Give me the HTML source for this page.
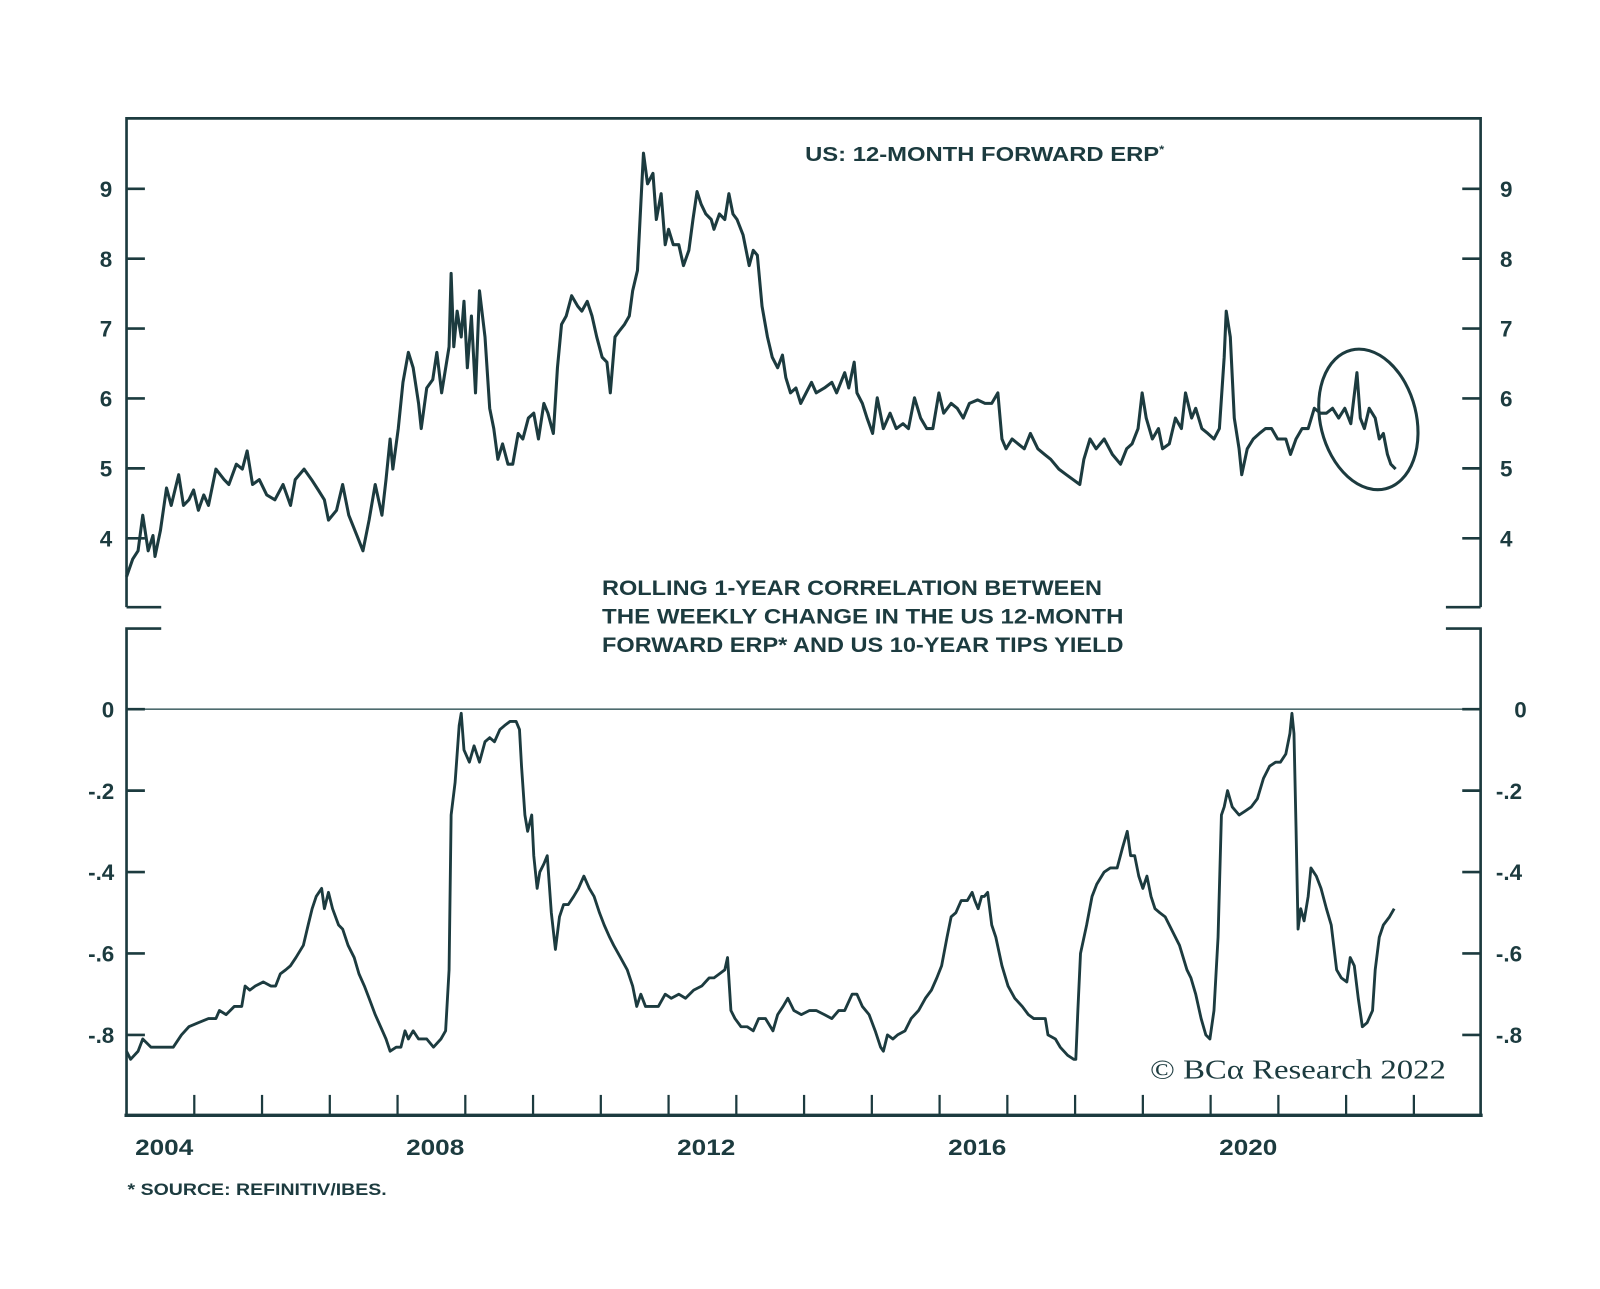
<!DOCTYPE html>
<html><head><meta charset="utf-8"><title>US 12-Month Forward ERP</title>
<style>
html,body{margin:0;padding:0;background:#fff;}
svg{display:block;}
text{font-family:"Liberation Sans",Arial,sans-serif;fill:#1c3b3f;font-weight:bold;}
</style></head>
<body>
<svg id="chart" width="1600" height="1289" viewBox="0 0 1568 1263.2" xmlns="http://www.w3.org/2000/svg">
  <rect x="0" y="0" width="1568" height="1264" fill="#fff"/>
  <g id="frame" stroke="#1c3b3f" fill="none" stroke-width="2.6">
    <path d="M124,595 V116 H1451 V595"/>
    <path d="M124,595 H158 M1451,595 H1417"/>
    <path d="M158,616 H124 V1093 M1417,616 H1451 V1093"/>
    <path d="M122,1093 H1453" stroke-width="3.4"/>
  </g>
  <line x1="124" x2="1451" y1="695" y2="695" stroke="#4d6b6e" stroke-width="1.6"/>
  <g id="axes"></g>
  <g id="series"></g>
  <ellipse cx="1341" cy="411" rx="47" ry="70" transform="rotate(-14 1341 411)" fill="none" stroke="#1c3b3f" stroke-width="3"/>
  <text x="789" y="158" font-size="20" textLength="352" lengthAdjust="spacingAndGlyphs">US: 12-MONTH FORWARD ERP<tspan font-size="11" dy="-8">*</tspan></text>
  <g font-size="21">
    <text x="590" y="583" textLength="490" lengthAdjust="spacingAndGlyphs">ROLLING 1-YEAR CORRELATION BETWEEN</text>
    <text x="590" y="611" textLength="511" lengthAdjust="spacingAndGlyphs">THE WEEKLY CHANGE IN THE US 12-MONTH</text>
    <text x="590" y="639" textLength="511" lengthAdjust="spacingAndGlyphs">FORWARD ERP* AND US 10-YEAR TIPS YIELD</text>
  </g>
  <text x="1127" y="1057" font-size="27" style="font-family:'Liberation Serif',serif;font-weight:normal" textLength="290" lengthAdjust="spacingAndGlyphs">© BCα Research 2022</text>
  <text x="125" y="1171" font-size="16" textLength="254" lengthAdjust="spacingAndGlyphs">* SOURCE: REFINITIV/IBES.</text>
</svg>
<script>
const erpDates = [2003.00,2003.09,2003.17,2003.24,2003.32,2003.39,2003.42,2003.50,2003.59,2003.66,2003.77,2003.84,2003.92,2003.99,2004.06,2004.14,2004.21,2004.32,2004.44,2004.51,2004.62,2004.71,2004.78,2004.86,2004.96,2005.07,2005.19,2005.31,2005.42,2005.49,2005.62,2005.73,2005.83,2005.92,2005.98,2006.10,2006.19,2006.28,2006.40,2006.49,2006.58,2006.67,2006.77,2006.83,2006.89,2006.93,2007.01,2007.08,2007.16,2007.23,2007.31,2007.35,2007.43,2007.52,2007.58,2007.65,2007.76,2007.79,2007.83,2007.88,2007.94,2007.98,2008.03,2008.09,2008.15,2008.21,2008.29,2008.36,2008.42,2008.48,2008.55,2008.63,2008.70,2008.78,2008.85,2008.93,2009.01,2009.08,2009.16,2009.22,2009.30,2009.36,2009.42,2009.49,2009.57,2009.66,2009.72,2009.80,2009.87,2009.94,2010.02,2010.09,2010.14,2010.21,2010.27,2010.35,2010.42,2010.47,2010.54,2010.59,2010.63,2010.69,2010.77,2010.82,2010.89,2010.95,2011.00,2011.07,2011.15,2011.22,2011.30,2011.36,2011.42,2011.48,2011.55,2011.63,2011.67,2011.75,2011.83,2011.89,2011.95,2012.01,2012.10,2012.19,2012.25,2012.31,2012.38,2012.46,2012.53,2012.61,2012.68,2012.73,2012.80,2012.88,2012.95,2013.03,2013.11,2013.18,2013.30,2013.41,2013.48,2013.60,2013.66,2013.74,2013.78,2013.86,2013.93,2014.01,2014.08,2014.17,2014.27,2014.36,2014.46,2014.54,2014.63,2014.72,2014.81,2014.90,2014.99,2015.06,2015.17,2015.26,2015.35,2015.44,2015.56,2015.67,2015.77,2015.86,2015.92,2015.98,2016.07,2016.16,2016.25,2016.34,2016.45,2016.55,2016.64,2016.76,2016.87,2017.07,2017.13,2017.22,2017.31,2017.43,2017.55,2017.67,2017.76,2017.84,2017.93,2017.99,2018.05,2018.14,2018.23,2018.29,2018.39,2018.48,2018.57,2018.63,2018.72,2018.78,2018.87,2018.96,2019.05,2019.13,2019.20,2019.23,2019.29,2019.35,2019.42,2019.46,2019.54,2019.63,2019.72,2019.81,2019.90,2019.99,2020.11,2020.18,2020.26,2020.35,2020.44,2020.53,2020.62,2020.71,2020.80,2020.89,2020.98,2021.07,2021.16,2021.21,2021.27,2021.34,2021.43,2021.49,2021.55,2021.61,2021.66,2021.73];
const erpValues = [3.45,3.70,3.82,4.33,3.82,4.04,3.74,4.11,4.72,4.47,4.91,4.47,4.55,4.69,4.40,4.62,4.47,4.99,4.84,4.77,5.06,4.99,5.25,4.77,4.84,4.62,4.55,4.77,4.47,4.84,4.99,4.84,4.69,4.55,4.26,4.40,4.77,4.33,4.04,3.82,4.26,4.77,4.33,4.84,5.42,4.99,5.57,6.23,6.66,6.44,5.93,5.57,6.15,6.27,6.66,6.08,6.74,7.79,6.74,7.25,6.88,7.39,6.44,7.18,6.08,7.54,6.88,5.86,5.57,5.13,5.35,5.06,5.06,5.50,5.42,5.72,5.79,5.42,5.93,5.79,5.50,6.44,7.06,7.18,7.47,7.32,7.25,7.39,7.18,6.88,6.59,6.52,6.08,6.88,6.96,7.06,7.18,7.54,7.83,8.78,9.51,9.07,9.22,8.56,8.93,8.20,8.42,8.20,8.20,7.90,8.12,8.56,8.96,8.78,8.64,8.56,8.42,8.64,8.56,8.93,8.64,8.56,8.34,7.90,8.12,8.05,7.32,6.88,6.59,6.44,6.62,6.30,6.08,6.15,5.93,6.08,6.23,6.08,6.15,6.23,6.08,6.37,6.15,6.52,6.08,5.93,5.72,5.50,6.01,5.57,5.79,5.57,5.64,5.57,6.01,5.72,5.57,5.57,6.08,5.79,5.93,5.86,5.72,5.93,5.98,5.93,5.93,6.08,5.42,5.28,5.42,5.35,5.28,5.50,5.28,5.20,5.13,4.99,4.91,4.77,5.13,5.42,5.28,5.42,5.20,5.06,5.28,5.35,5.57,6.08,5.72,5.42,5.57,5.28,5.35,5.72,5.57,6.08,5.72,5.86,5.57,5.50,5.42,5.57,6.59,7.25,6.88,5.72,5.28,4.91,5.28,5.42,5.50,5.57,5.57,5.42,5.42,5.20,5.42,5.57,5.57,5.86,5.79,5.79,5.86,5.72,5.86,5.64,6.37,5.72,5.57,5.86,5.72,5.42,5.50,5.20,5.06,4.99];

const corrDates = [2003.00,2003.06,2003.17,2003.24,2003.36,2003.54,2003.69,2003.81,2003.92,2004.06,2004.21,2004.32,2004.37,2004.47,2004.59,2004.70,2004.75,2004.82,2004.90,2005.02,2005.13,2005.20,2005.27,2005.35,2005.42,2005.50,2005.61,2005.68,2005.74,2005.80,2005.88,2005.92,2005.98,2006.04,2006.13,2006.19,2006.27,2006.36,2006.43,2006.51,2006.58,2006.67,2006.75,2006.83,2006.89,2006.98,2007.05,2007.11,2007.16,2007.23,2007.31,2007.43,2007.53,2007.64,2007.71,2007.76,2007.79,2007.85,2007.91,2007.94,2007.98,2008.06,2008.13,2008.21,2008.29,2008.36,2008.43,2008.51,2008.58,2008.66,2008.75,2008.80,2008.83,2008.88,2008.92,2008.98,2009.01,2009.06,2009.10,2009.16,2009.21,2009.27,2009.33,2009.39,2009.45,2009.52,2009.60,2009.67,2009.75,2009.83,2009.90,2009.98,2010.05,2010.13,2010.19,2010.29,2010.39,2010.47,2010.53,2010.59,2010.66,2010.74,2010.85,2010.95,2011.04,2011.15,2011.25,2011.37,2011.49,2011.60,2011.67,2011.75,2011.83,2011.87,2011.92,2011.98,2012.07,2012.16,2012.25,2012.33,2012.43,2012.54,2012.61,2012.69,2012.76,2012.85,2012.96,2013.08,2013.18,2013.30,2013.41,2013.51,2013.60,2013.71,2013.78,2013.86,2013.96,2014.05,2014.13,2014.17,2014.23,2014.31,2014.38,2014.49,2014.58,2014.69,2014.79,2014.88,2014.96,2015.03,2015.11,2015.17,2015.24,2015.32,2015.41,2015.48,2015.52,2015.57,2015.62,2015.66,2015.71,2015.77,2015.83,2015.92,2016.01,2016.11,2016.22,2016.31,2016.39,2016.48,2016.56,2016.60,2016.71,2016.78,2016.89,2016.98,2017.01,2017.04,2017.08,2017.17,2017.25,2017.32,2017.43,2017.52,2017.62,2017.70,2017.77,2017.82,2017.88,2017.94,2018.00,2018.06,2018.12,2018.18,2018.25,2018.33,2018.45,2018.54,2018.65,2018.71,2018.78,2018.86,2018.93,2018.99,2019.05,2019.11,2019.16,2019.20,2019.25,2019.32,2019.42,2019.51,2019.60,2019.69,2019.78,2019.87,2019.96,2020.03,2020.11,2020.17,2020.20,2020.23,2020.26,2020.29,2020.33,2020.38,2020.44,2020.48,2020.56,2020.63,2020.71,2020.78,2020.86,2020.93,2021.01,2021.06,2021.12,2021.18,2021.24,2021.31,2021.39,2021.43,2021.49,2021.55,2021.64,2021.71];
const corrValues = [-0.84,-0.86,-0.84,-0.81,-0.83,-0.83,-0.83,-0.80,-0.78,-0.77,-0.76,-0.76,-0.74,-0.75,-0.73,-0.73,-0.68,-0.69,-0.68,-0.67,-0.68,-0.68,-0.65,-0.64,-0.63,-0.61,-0.58,-0.53,-0.49,-0.46,-0.44,-0.49,-0.45,-0.49,-0.53,-0.54,-0.58,-0.61,-0.65,-0.68,-0.71,-0.75,-0.78,-0.81,-0.84,-0.83,-0.83,-0.79,-0.81,-0.79,-0.81,-0.81,-0.83,-0.81,-0.79,-0.64,-0.26,-0.18,-0.04,-0.01,-0.10,-0.13,-0.09,-0.13,-0.08,-0.07,-0.08,-0.05,-0.04,-0.03,-0.03,-0.05,-0.14,-0.26,-0.30,-0.26,-0.36,-0.44,-0.40,-0.38,-0.36,-0.50,-0.59,-0.51,-0.48,-0.48,-0.46,-0.44,-0.41,-0.44,-0.46,-0.50,-0.53,-0.56,-0.58,-0.61,-0.64,-0.68,-0.73,-0.70,-0.73,-0.73,-0.73,-0.70,-0.71,-0.70,-0.71,-0.69,-0.68,-0.66,-0.66,-0.65,-0.64,-0.61,-0.74,-0.76,-0.78,-0.78,-0.79,-0.76,-0.76,-0.79,-0.75,-0.73,-0.71,-0.74,-0.75,-0.74,-0.74,-0.75,-0.76,-0.74,-0.74,-0.70,-0.70,-0.73,-0.75,-0.79,-0.83,-0.84,-0.80,-0.81,-0.80,-0.79,-0.76,-0.74,-0.71,-0.69,-0.66,-0.63,-0.56,-0.51,-0.50,-0.47,-0.47,-0.45,-0.47,-0.49,-0.46,-0.46,-0.45,-0.53,-0.56,-0.63,-0.68,-0.71,-0.73,-0.75,-0.76,-0.76,-0.76,-0.80,-0.81,-0.83,-0.85,-0.86,-0.86,-0.74,-0.60,-0.53,-0.46,-0.43,-0.40,-0.39,-0.39,-0.34,-0.30,-0.36,-0.36,-0.41,-0.44,-0.41,-0.46,-0.49,-0.50,-0.51,-0.55,-0.58,-0.64,-0.66,-0.70,-0.76,-0.80,-0.81,-0.74,-0.56,-0.26,-0.24,-0.20,-0.24,-0.26,-0.25,-0.24,-0.22,-0.17,-0.14,-0.13,-0.13,-0.11,-0.06,-0.01,-0.06,-0.29,-0.54,-0.49,-0.52,-0.46,-0.39,-0.41,-0.44,-0.49,-0.53,-0.64,-0.66,-0.67,-0.61,-0.63,-0.71,-0.78,-0.77,-0.74,-0.64,-0.56,-0.53,-0.51,-0.49];

const erpTicks = [4,5,6,7,8,9];
const erpTickLabels = ["4","5","6","7","8","9"];
const corrTicks = [-0.8,-0.6,-0.4,-0.2,0];
const corrTickLabels = ["-.8","-.6","-.4","-.2","0"];
const yearTicks = [2004,2005,2006,2007,2008,2009,2010,2011,2012,2013,2014,2015,2016,2017,2018,2019,2020,2021,2022];
const yearLabels = ["2004","2008","2012","2016","2020"];

const NS = "http://www.w3.org/2000/svg";
const X0 = 124, X1 = 1451, Y0 = 2003.0, Y1 = 2022.985;
function xScale(yr){ return X0 + (yr - Y0) / (Y1 - Y0) * (X1 - X0); }
function yTop(v){ return 185 + (9 - v) * 68.5; }
function yBot(v){ return 695 - v * 399; }
function mk(tag, attrs){ const e = document.createElementNS(NS, tag); for (const k in attrs) e.setAttribute(k, attrs[k]); return e; }

const axes = document.getElementById('axes');
const series = document.getElementById('series');
const INK = "#1c3b3f";

erpTicks.forEach((t, i) => {
  const y = yTop(t);
  const tl = mk('line', {x1:124, x2:142, y1:y, y2:y, stroke:INK, 'stroke-width':2.6});
  
  
  axes.appendChild(tl);
  const tr = mk('line', {x1:1433, x2:1451, y1:y, y2:y, stroke:INK, 'stroke-width':2.6});
  
  
  axes.appendChild(tr);
  const l = mk('text', {x:110, y:y+8, 'font-size':22, 'text-anchor':'end'});
  l.textContent = erpTickLabels[i];
  
  
  axes.appendChild(l);
  const r = mk('text', {x:1470, y:y+8, 'font-size':22});
  r.textContent = erpTickLabels[i];
  
  
  axes.appendChild(r);
});

corrTicks.forEach((t, i) => {
  const y = yBot(t);
  const tl = mk('line', {x1:124, x2:142, y1:y, y2:y, stroke:INK, 'stroke-width':2.6});
  
  
  axes.appendChild(tl);
  const tr = mk('line', {x1:1433, x2:1451, y1:y, y2:y, stroke:INK, 'stroke-width':2.6});
  
  
  axes.appendChild(tr);
  const l = mk('text', {x:112, y:y+8, 'font-size':22, 'text-anchor':'end'});
  l.textContent = corrTickLabels[i];
  
  
  axes.appendChild(l);
  const r = mk('text', {x: corrTickLabels[i] === "0" ? 1484 : 1466, y:y+8, 'font-size':22});
  r.textContent = corrTickLabels[i];
  
  
  axes.appendChild(r);
});

yearTicks.forEach(yr => {
  const x = xScale(yr);
  const t = mk('line', {x1:x, x2:x, y1:1093, y2:1073, stroke:INK, 'stroke-width':2.2});
  
  
  axes.appendChild(t);
});
yearLabels.forEach(lbl => {
  const x = xScale(+lbl);
  const t = mk('text', {x:x-58, y:1132, 'font-size':22, textLength:57, lengthAdjust:'spacingAndGlyphs'});
  t.textContent = lbl;
  
  
  axes.appendChild(t);
});

function linePath(dates, vals, ys){
  return dates.map((d, i) => (i ? 'L' : 'M') + xScale(d).toFixed(1) + ',' + ys(vals[i]).toFixed(1)).join(' ');
}
const p1 = mk('path', {d: linePath(erpDates, erpValues, yTop), fill:'none', stroke:INK, 'stroke-width':3, 'stroke-linejoin':'round'});


series.appendChild(p1);
const p2 = mk('path', {d: linePath(corrDates, corrValues, yBot), fill:'none', stroke:INK, 'stroke-width':2.8, 'stroke-linejoin':'round'});


series.appendChild(p2);
</script>
</body></html>
